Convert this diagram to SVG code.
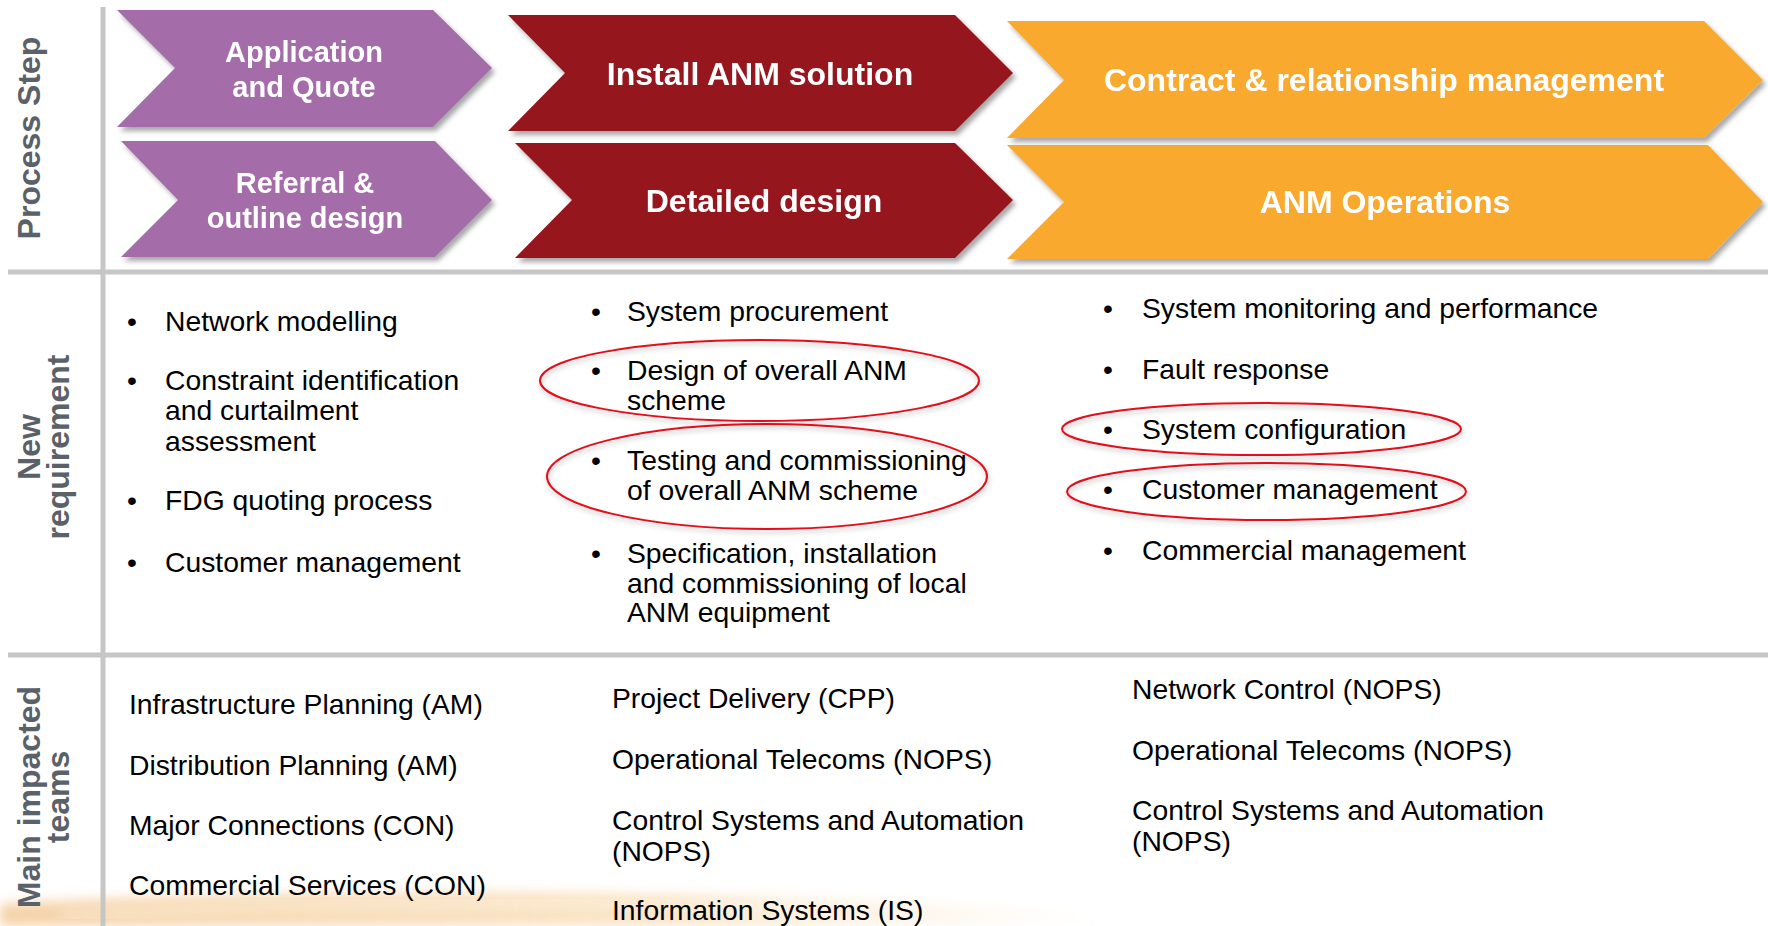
<svg xmlns="http://www.w3.org/2000/svg" width="1768" height="926" viewBox="0 0 1768 926">
<defs>
<filter id="sh" x="-5%" y="-10%" width="115%" height="130%">
<feDropShadow dx="3" dy="4" stdDeviation="2.5" flood-color="#000" flood-opacity="0.35"/>
</filter>
<filter id="esh" x="-5%" y="-20%" width="110%" height="150%">
<feDropShadow dx="1" dy="3" stdDeviation="2.5" flood-color="#000" flood-opacity="0.25"/>
</filter>
<filter id="blur" x="-10%" y="-50%" width="120%" height="200%">
<feGaussianBlur stdDeviation="6"/>
</filter>
<linearGradient id="sw" x1="0" y1="0" x2="1" y2="0">
<stop offset="0" stop-color="#f2c48a" stop-opacity="0.75"/>
<stop offset="0.6" stop-color="#f7d3a0" stop-opacity="0.6"/>
<stop offset="1" stop-color="#fbe3bd" stop-opacity="0"/>
</linearGradient>
</defs>
<style>
.grid{stroke:#c6c6c6;stroke-width:5;fill:none}
.sec{font-family:"Liberation Sans",Arial,sans-serif;font-weight:bold;font-size:32px;fill:#5b6168;text-anchor:middle}
.chev{filter:url(#sh)}
.pu{fill:#a46ca8}
.rd{fill:#95141f}
.or{fill:#f8a92d}
.ct{font-family:"Liberation Sans",Arial,sans-serif;font-weight:bold;fill:#fff;text-anchor:middle}
.body{font-family:"Liberation Sans",Arial,sans-serif;font-size:28.3px;fill:#000}
.oval{fill:none;stroke:#e3101a;stroke-width:2;filter:url(#esh)}
</style>
<rect width="1768" height="926" fill="#fff"/>
<g id="swoosh">
<path d="M0,926 L0,904 C200,893 450,889 700,895 C880,900 1000,906 1100,914 L1100,926 Z" fill="url(#sw)" filter="url(#blur)"/>
<path d="M60,914 C300,904 560,902 820,908" stroke="#fff" stroke-opacity="0.6" stroke-width="5" fill="none" filter="url(#blur)"/>
</g>
<g id="grid">
<line class="grid" x1="103" y1="7" x2="103" y2="926"/>
<line class="grid" x1="8" y1="272" x2="1768" y2="272"/>
<line class="grid" x1="8" y1="655" x2="1768" y2="655"/>
</g>
<g id="row-labels">
<text class="sec" transform="translate(40,138) rotate(-90)">Process Step</text>
<text class="sec" transform="translate(40,447) rotate(-90)">New</text>
<text class="sec" transform="translate(69,447) rotate(-90)">requirement</text>
<text class="sec" transform="translate(40,797) rotate(-90)">Main impacted</text>
<text class="sec" transform="translate(69,797) rotate(-90)">teams</text>
</g>
<g id="step-application" class="chev">
<polygon class="pu" points="117,10 433,10 492,68 433,127 117,127 175,68"/>
<text class="ct" font-size="29" x="304" y="62">Application</text>
<text class="ct" font-size="29" x="304" y="97">and Quote</text>
</g>
<g id="step-referral" class="chev">
<polygon class="pu" points="121,141 435,141 492,200 435,257 121,257 178,200"/>
<text class="ct" font-size="29" x="305" y="193">Referral &amp;</text>
<text class="ct" font-size="29" x="305" y="228">outline design</text>
</g>
<g id="step-install" class="chev">
<polygon class="rd" points="508,15 955,15 1013,73 955,131 508,131 565,73"/>
<text class="ct" font-size="32" x="760" y="85">Install ANM solution</text>
</g>
<g id="step-detailed" class="chev">
<polygon class="rd" points="515,143 955,143 1013,200 955,258 515,258 572,200"/>
<text class="ct" font-size="32" x="764" y="212">Detailed design</text>
</g>
<g id="step-contract" class="chev">
<polygon class="or" points="1007,21 1704,21 1763,80 1704,138 1007,138 1064,80"/>
<text class="ct" font-size="32" x="1384" y="91">Contract &amp; relationship management</text>
</g>
<g id="step-operations" class="chev">
<polygon class="or" points="1007,145 1708,145 1763,202 1708,259 1007,259 1064,202"/>
<text class="ct" font-size="32" x="1385" y="213">ANM Operations</text>
</g>
<g id="req-col1" class="body">
<text x="127" y="331">•</text><text x="165" y="331">Network modelling</text>
<text x="127" y="390">•</text><text x="165" y="390">Constraint identification</text>
<text x="165" y="420">and curtailment</text>
<text x="165" y="451">assessment</text>
<text x="127" y="510">•</text><text x="165" y="510">FDG quoting process</text>
<text x="127" y="572">•</text><text x="165" y="572">Customer management</text>
</g>
<g id="req-col2" class="body">
<text x="591" y="321">•</text><text x="627" y="321">System procurement</text>
<text x="591" y="380">•</text><text x="627" y="380">Design of overall ANM</text>
<text x="627" y="410">scheme</text>
<text x="591" y="470">•</text><text x="627" y="470">Testing and commissioning</text>
<text x="627" y="500">of overall ANM scheme</text>
<text x="591" y="563">•</text><text x="627" y="563">Specification, installation</text>
<text x="627" y="593">and commissioning of local</text>
<text x="627" y="622">ANM equipment</text>
</g>
<g id="req-col3" class="body">
<text x="1103" y="318">•</text><text x="1142" y="318">System monitoring and performance</text>
<text x="1103" y="379">•</text><text x="1142" y="379">Fault response</text>
<text x="1103" y="439">•</text><text x="1142" y="439">System configuration</text>
<text x="1103" y="499">•</text><text x="1142" y="499">Customer management</text>
<text x="1103" y="560">•</text><text x="1142" y="560">Commercial management</text>
</g>
<g id="highlights">
<ellipse class="oval" cx="759.5" cy="380.5" rx="219.5" ry="40.5"/>
<ellipse class="oval" cx="767" cy="476.5" rx="220" ry="52.5"/>
<ellipse class="oval" cx="1261.5" cy="429" rx="199.5" ry="26"/>
<ellipse class="oval" cx="1266.5" cy="491.5" rx="199.5" ry="28.5"/>
</g>
<g id="teams-col1" class="body">
<text x="129" y="714">Infrastructure Planning (AM)</text>
<text x="129" y="775">Distribution Planning (AM)</text>
<text x="129" y="835">Major Connections (CON)</text>
<text x="129" y="895">Commercial Services (CON)</text>
</g>
<g id="teams-col2" class="body">
<text x="612" y="708">Project Delivery (CPP)</text>
<text x="612" y="769">Operational Telecoms (NOPS)</text>
<text x="612" y="830">Control Systems and Automation</text>
<text x="612" y="861">(NOPS)</text>
<text x="612" y="920">Information Systems (IS)</text>
</g>
<g id="teams-col3" class="body">
<text x="1132" y="699">Network Control (NOPS)</text>
<text x="1132" y="760">Operational Telecoms (NOPS)</text>
<text x="1132" y="820">Control Systems and Automation</text>
<text x="1132" y="851">(NOPS)</text>
</g>
</svg>
